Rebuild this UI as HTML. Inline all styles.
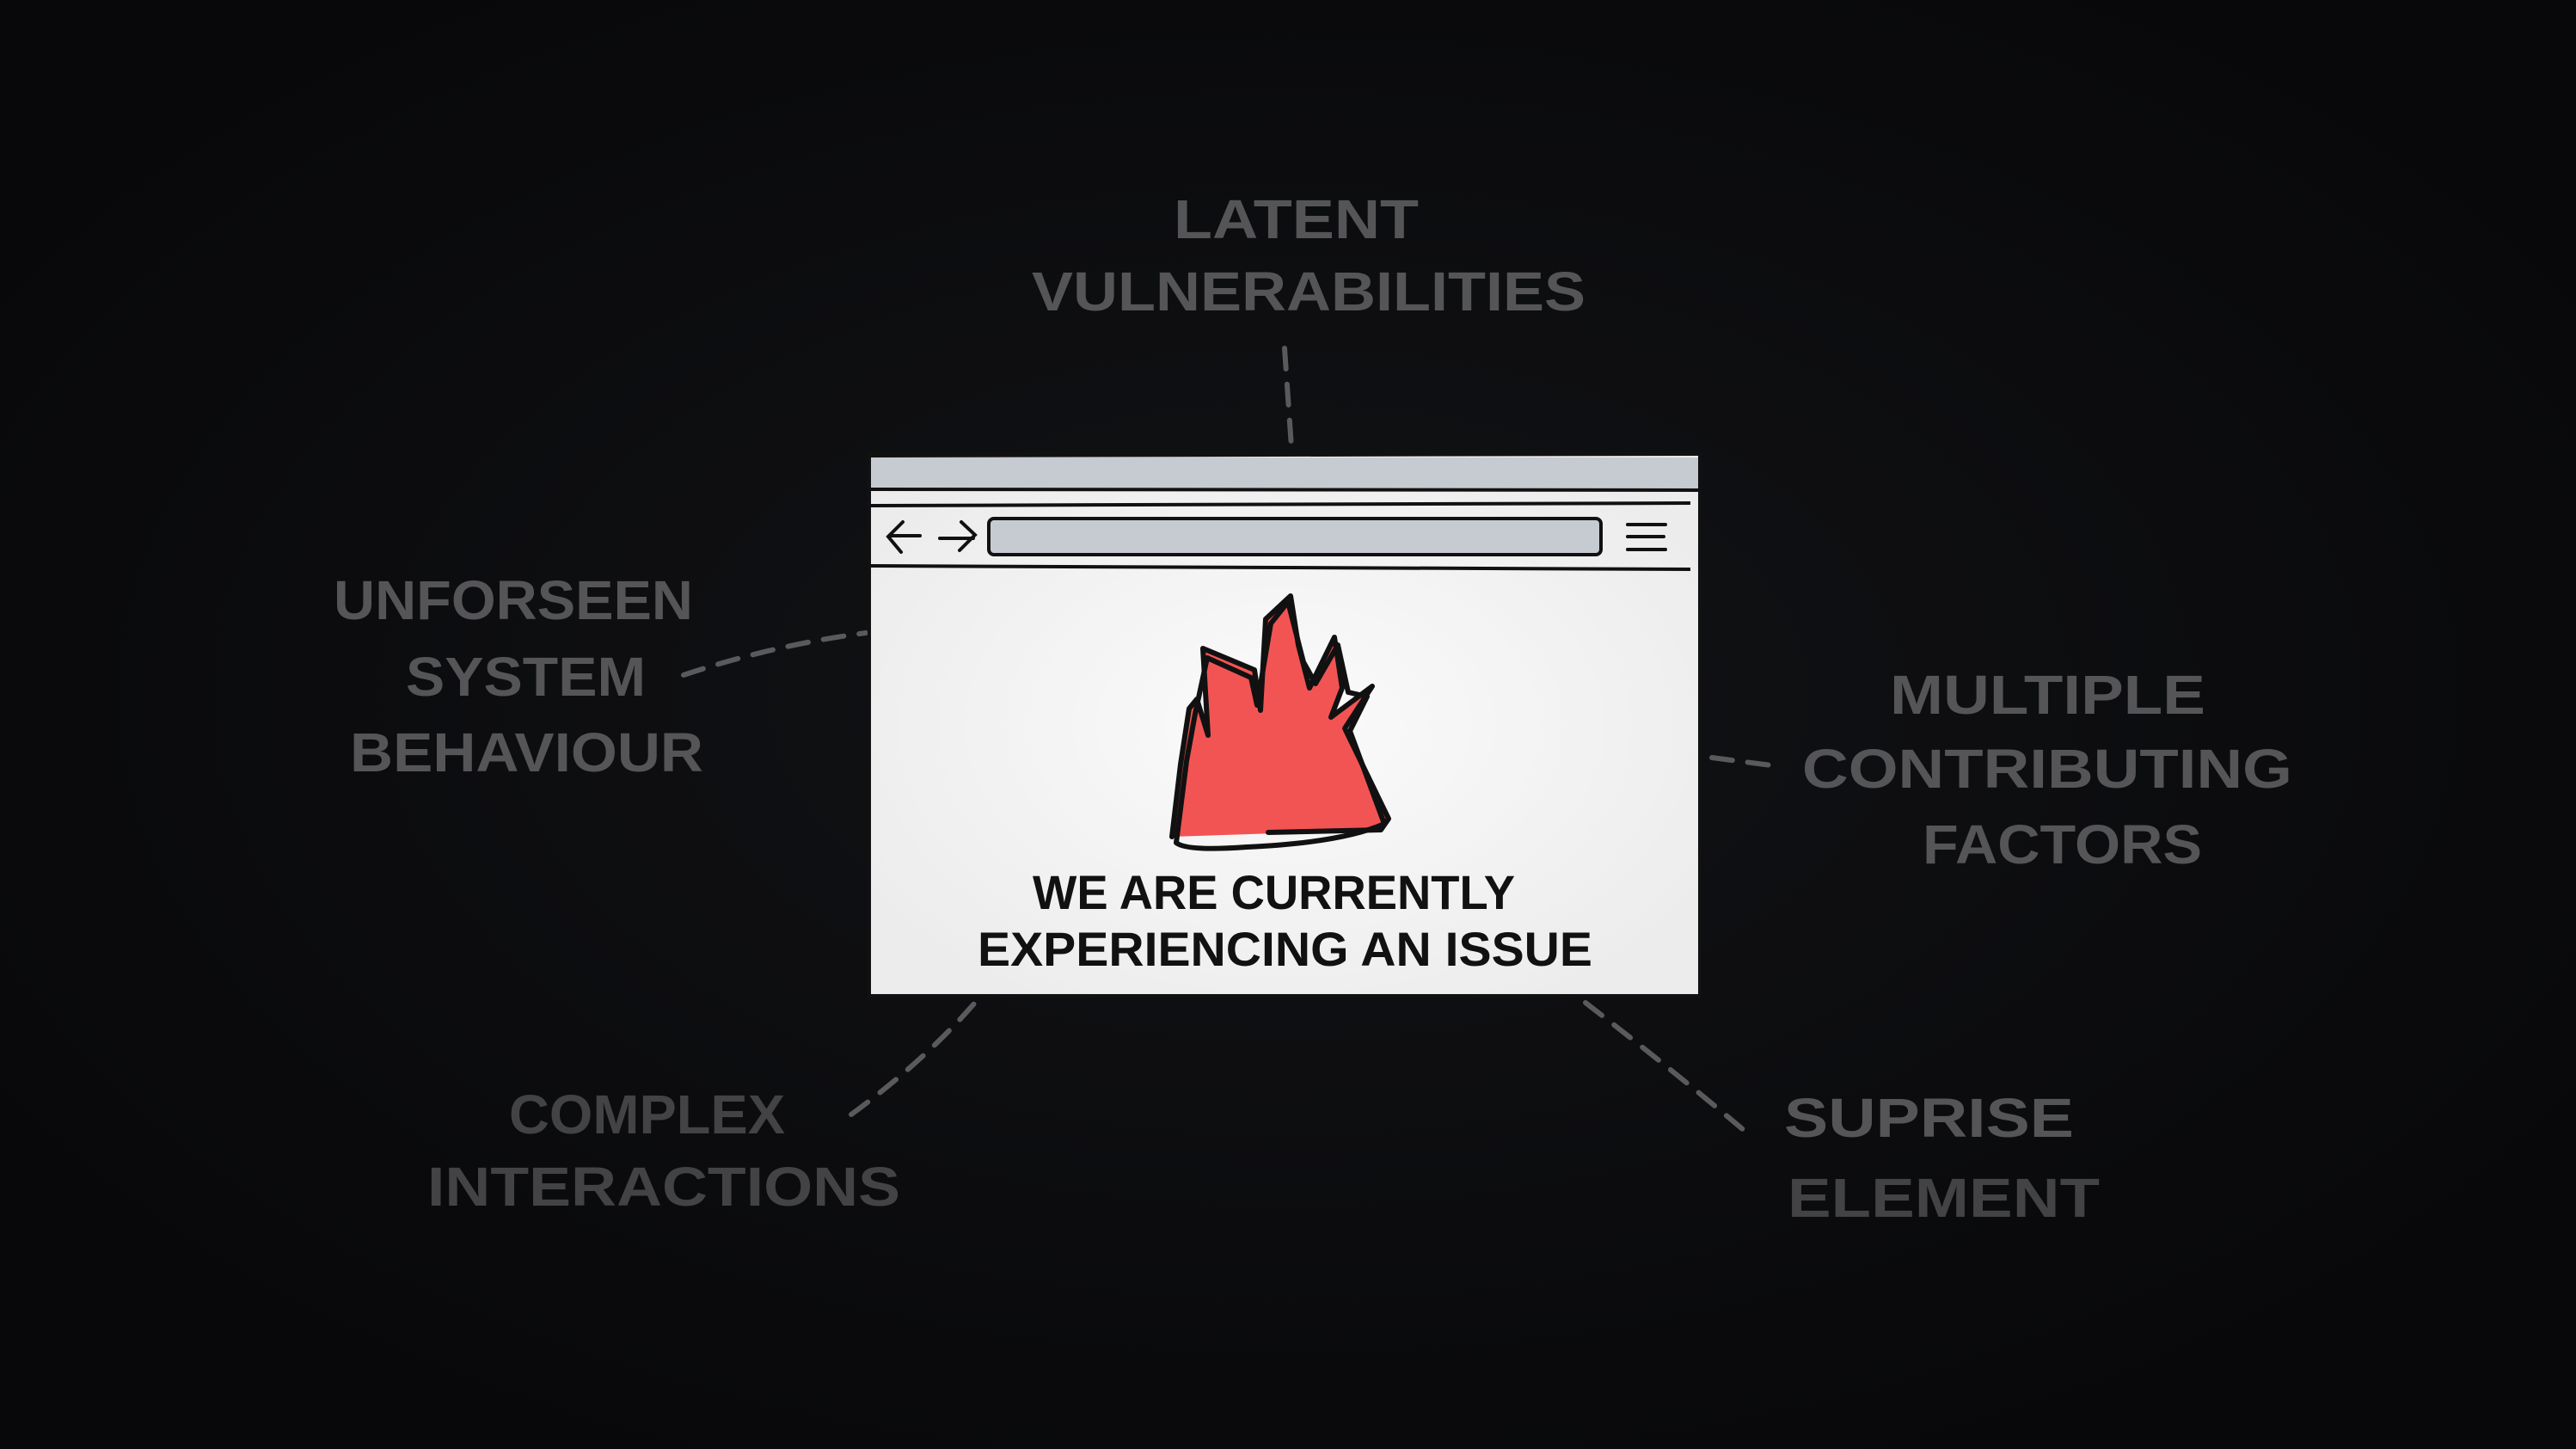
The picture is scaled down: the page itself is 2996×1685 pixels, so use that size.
<!DOCTYPE html>
<html><head><meta charset="utf-8"><style>
html,body{margin:0;padding:0;background:#0b0b0e;}
svg{display:block}
</style></head><body>
<svg width="2996" height="1685" viewBox="0 0 2996 1685" xmlns="http://www.w3.org/2000/svg">
<defs>
<radialGradient id="bg" cx="50%" cy="48%" r="60%">
<stop offset="0" stop-color="#121316"/><stop offset="1" stop-color="#08080a"/>
</radialGradient>
<radialGradient id="pg" cx="50%" cy="50%" r="60%">
<stop offset="0" stop-color="#fbfbfb"/><stop offset="1" stop-color="#ececec"/>
</radialGradient>
</defs>
<rect width="2996" height="1685" fill="url(#bg)"/>
<g font-family="Liberation Sans, sans-serif" font-weight="bold" fill="#555558">
<text x="1200" y="270" font-size="66" textLength="0" style="display:none"></text>
<text x="1365" y="277" font-size="64" textLength="285" lengthAdjust="spacingAndGlyphs">LATENT</text>
<text x="1200" y="361" font-size="64" textLength="644" lengthAdjust="spacingAndGlyphs">VULNERABILITIES</text>
<text x="388" y="720" font-size="64" textLength="418" lengthAdjust="spacingAndGlyphs">UNFORSEEN</text>
<text x="472" y="809" font-size="64" textLength="279" lengthAdjust="spacingAndGlyphs">SYSTEM</text>
<text x="407" y="897" font-size="64" textLength="411" lengthAdjust="spacingAndGlyphs">BEHAVIOUR</text>
<text x="2198" y="830" font-size="64" textLength="367" lengthAdjust="spacingAndGlyphs">MULTIPLE</text>
<text x="2096" y="916" font-size="64" textLength="570" lengthAdjust="spacingAndGlyphs">CONTRIBUTING</text>
<text x="2236" y="1004" font-size="64" textLength="325" lengthAdjust="spacingAndGlyphs">FACTORS</text>
<text x="2075" y="1322" font-size="64" textLength="337" lengthAdjust="spacingAndGlyphs">SUPRISE</text>
</g>
<g font-family="Liberation Sans, sans-serif" font-weight="bold" fill="#434346">
<text x="592" y="1318" font-size="64" textLength="321" lengthAdjust="spacingAndGlyphs">COMPLEX</text>
<text x="497" y="1402" font-size="64" textLength="550" lengthAdjust="spacingAndGlyphs">INTERACTIONS</text>
<text x="2079" y="1415" font-size="64" textLength="363" lengthAdjust="spacingAndGlyphs">ELEMENT</text>
</g>
<g stroke="#5a5a5d" stroke-width="6" stroke-dasharray="24 18" fill="none" stroke-linecap="round">
<path d="M1494 405 L1502 520"/>
<path d="M795 785 Q900 750 1007 736"/>
<path d="M1991 881 L2060 890"/>
<path d="M990 1296 Q1080 1230 1139 1160"/>
<path d="M1844 1166 Q1940 1240 2029 1315"/>
</g>
<!-- browser -->
<rect x="1011" y="528" width="966" height="630" fill="url(#pg)" stroke="#111" stroke-width="4"/>
<rect x="1013" y="532" width="962" height="37" fill="#c6cbd2"/>
<g stroke="#111" stroke-width="4" fill="none">
<line x1="1011" y1="569" x2="1977" y2="570"/>
<line x1="1008" y1="588" x2="1966" y2="585"/>
<line x1="1008" y1="658" x2="1966" y2="662"/>
<line x1="1011" y1="530" x2="1977" y2="528"/>
</g>
<rect x="1150" y="603" width="712" height="42" rx="6" fill="#c6cbd2" stroke="#111" stroke-width="4"/>
<g stroke="#111" stroke-width="4" fill="none" stroke-linecap="round">
<path d="M1070 623 H1035 M1050 607 L1033 624 L1048 642"/>
<path d="M1093 626 H1132 M1118 607 L1134 622 L1116 640"/>
<path d="M1893 610 H1937 M1893 624 H1935 M1893 639 H1937"/>
</g>
<!-- flame -->
<path d="M1363 973 L1373 889 L1383 824 L1392 813 L1405 855 L1399 754 L1459 779 L1466 826 L1472 720 L1501 693 L1510 750 L1523 800 L1552 741 L1561 800 L1548 834 L1596 798 L1564 847 L1615 952 L1606 965 Z" fill="#f25454"/>
<g stroke="#111" stroke-width="6" fill="none" stroke-linejoin="round" stroke-linecap="round">
<path d="M1363 973 L1373 889 L1383 824 L1392 813 L1405 855 L1399 754 L1459 779 L1466 826 L1472 720 L1501 693 L1510 750 L1523 800 L1552 741 L1561 800 L1548 834 L1596 798 L1564 847 L1615 952 L1606 965 L1475 968"/>
<path d="M1368 980 L1380 885 L1390 830 L1404 765 L1455 788 L1462 820 L1478 725 L1498 700 L1516 770 L1530 795 L1556 750 L1568 805 L1590 810 L1570 850 L1610 958 Q1560 980 1450 985 Q1380 990 1368 980"/>
</g>
<g font-family="Liberation Sans, sans-serif" font-weight="bold" fill="#111">
<text x="1201" y="1057" font-size="56" textLength="561" lengthAdjust="spacingAndGlyphs">WE ARE CURRENTLY</text>
<text x="1137" y="1123" font-size="56" textLength="715" lengthAdjust="spacingAndGlyphs">EXPERIENCING AN ISSUE</text>
</g>
</svg>
</body></html>
